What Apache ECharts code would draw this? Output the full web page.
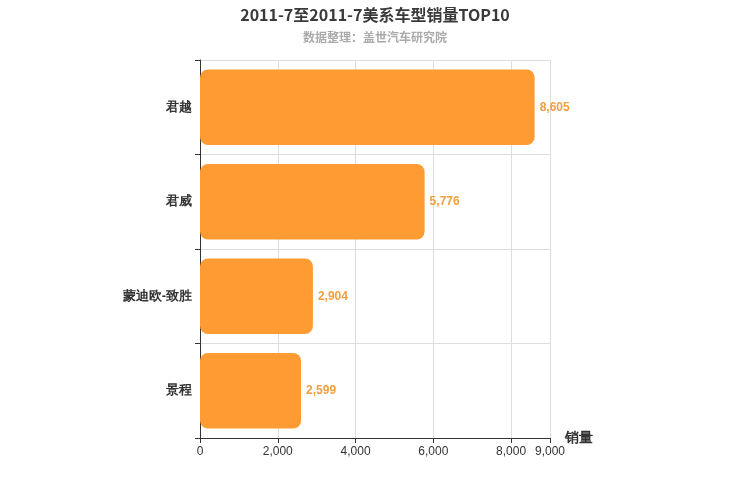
<!DOCTYPE html>
<html><head><meta charset="utf-8">
<script src="https://cdn.jsdelivr.net/npm/echarts@6/dist/echarts.min.js"></script>
<style>html,body{margin:0;padding:0;}#c{width:750px;height:500px;}</style>
</head><body><div id="c"></div>
<script>
const categories = ['君越','君威','蒙迪欧-致胜','景程'];
const sales = [8605, 5776, 2904, 2599];
const chart = echarts.init(document.getElementById('c'));
chart.setOption({
  title: {text: '2011-7至2011-7美系车型销量TOP10', subtext: '数据整理：盖世汽车研究院', left: 'center', top: 2,
    textStyle: {fontSize: 16, fontWeight: 'bold', color: '#3a3a3a', fontFamily: 'Noto Sans CJK SC'},
    subtextStyle: {fontSize: 12, color: '#aaa', fontWeight: 'bold', fontFamily: 'Noto Sans CJK SC'}, itemGap: 8},
  grid: {left: 200, right: 200, top: 60, bottom: 62, containLabel: false},
  xAxis: {type: 'value', min: 0, max: 9000, interval: 2000, name: '销量',
    nameTextStyle: {fontSize: 14, fontWeight: 'bold', color: '#333', padding: [18, 0, 0, 0]},
    axisLine: {show: true, lineStyle: {color: '#333'}}, axisTick: {show: true},
    axisLabel: {color: '#333', fontSize: 12, showMaxLabel: true, formatter: v => v.toLocaleString('en-US')},
    splitLine: {lineStyle: {color: '#ddd'}}},
  yAxis: {type: 'category', data: categories, inverse: true,
    axisLine: {lineStyle: {color: '#333'}}, axisTick: {show: true},
    axisLabel: {color: '#333', fontSize: 13, fontWeight: 'bold'},
    splitLine: {show: true, lineStyle: {color: '#ddd'}}},
  series: [{type: 'bar', data: sales, barWidth: '80%',
    itemStyle: {color: '#FF9B33', borderRadius: 8},
    label: {show: true, position: 'right', color: '#F0A040', fontWeight: 'bold', fontSize: 12,
      formatter: p => p.value.toLocaleString('en-US')}}]
});
</script></body></html>
